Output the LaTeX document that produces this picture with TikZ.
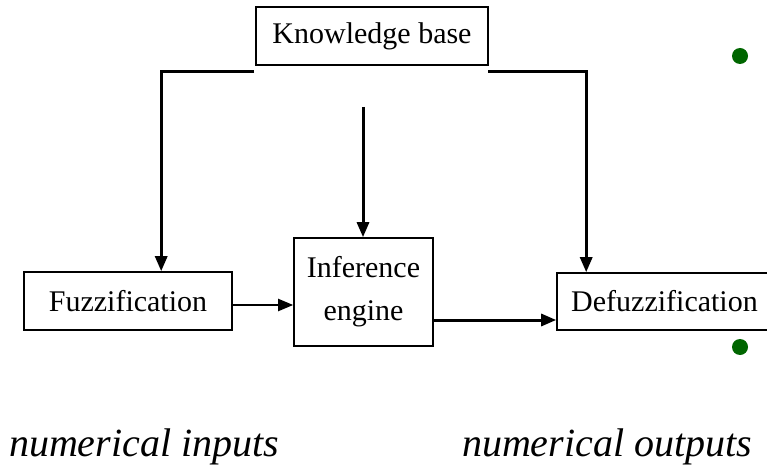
\documentclass[tikz,border=0pt]{standalone}
\usepackage{fontspec}
\setmainfont{Liberation Serif}
\usetikzlibrary{arrows.meta,calc}

\tikzset{
    block/.style={draw, line width=1.6pt, inner sep=0pt, font=\fontsize{30}{43}\selectfont},
    feed/.style={line width=3pt, -{Triangle[length=15pt,width=12pt]}},
    link/.style={line width=2pt, -{Triangle[length=15pt,width=12pt]}}
}

\begin{document}
\begin{tikzpicture}[x=1pt,y=-1pt]
    \useasboundingbox (0,0) rectangle (767,470);

    % Blocks
    \node[block, minimum width=232pt, minimum height=58pt] (kb) at (372,36) {Knowledge base};
    \node[block, minimum width=208pt, minimum height=58pt] (fuzz) at (128,301) {Fuzzification};
    \node[block, minimum width=139pt, minimum height=108pt, align=center] (inf) at (363.5,292) {Inference\\engine};
    \node[block, minimum width=215pt, minimum height=57pt] (defuzz) at (664.5,301.5) {Defuzzification};

    % Free ends of the rule lines
    \coordinate (kbL) at (254,72);
    \coordinate (kbM) at (363,107);
    \coordinate (kbR) at (488,72);
    \coordinate (fuzzOut) at ($(fuzz.east)+(0,4)$);
    \coordinate (infOut) at ($(inf.east)+(0,28)$);
    \coordinate (fuzzIn) at ($(fuzz.north west)+(138,0)$);
    \coordinate (defuzzIn) at ($(defuzz.north west)+(30,0)$);

    % Knowledge base feeds
    \draw[feed] (kbL) -| (fuzzIn);
    \draw[feed] (kbM) -- (kbM |- inf.north);
    \draw[feed] (kbR) -| (defuzzIn);

    % Signal path
    \draw[link] (fuzzOut) -- (fuzzOut -| inf.west);
    \draw[feed] (infOut) -- (infOut -| defuzz.west);

    % Captions
    \node[font=\fontsize{40}{42}\selectfont\itshape] (numin) at (144,447) {numerical inputs};
    \node[font=\fontsize{40}{42}\selectfont\itshape] (numout) at (607,447) {numerical outputs};

    % Bullets
    \fill[green!40!black] (740,56) circle (8);
    \fill[green!40!black] (740,347) circle (8);
\end{tikzpicture}
\end{document}
